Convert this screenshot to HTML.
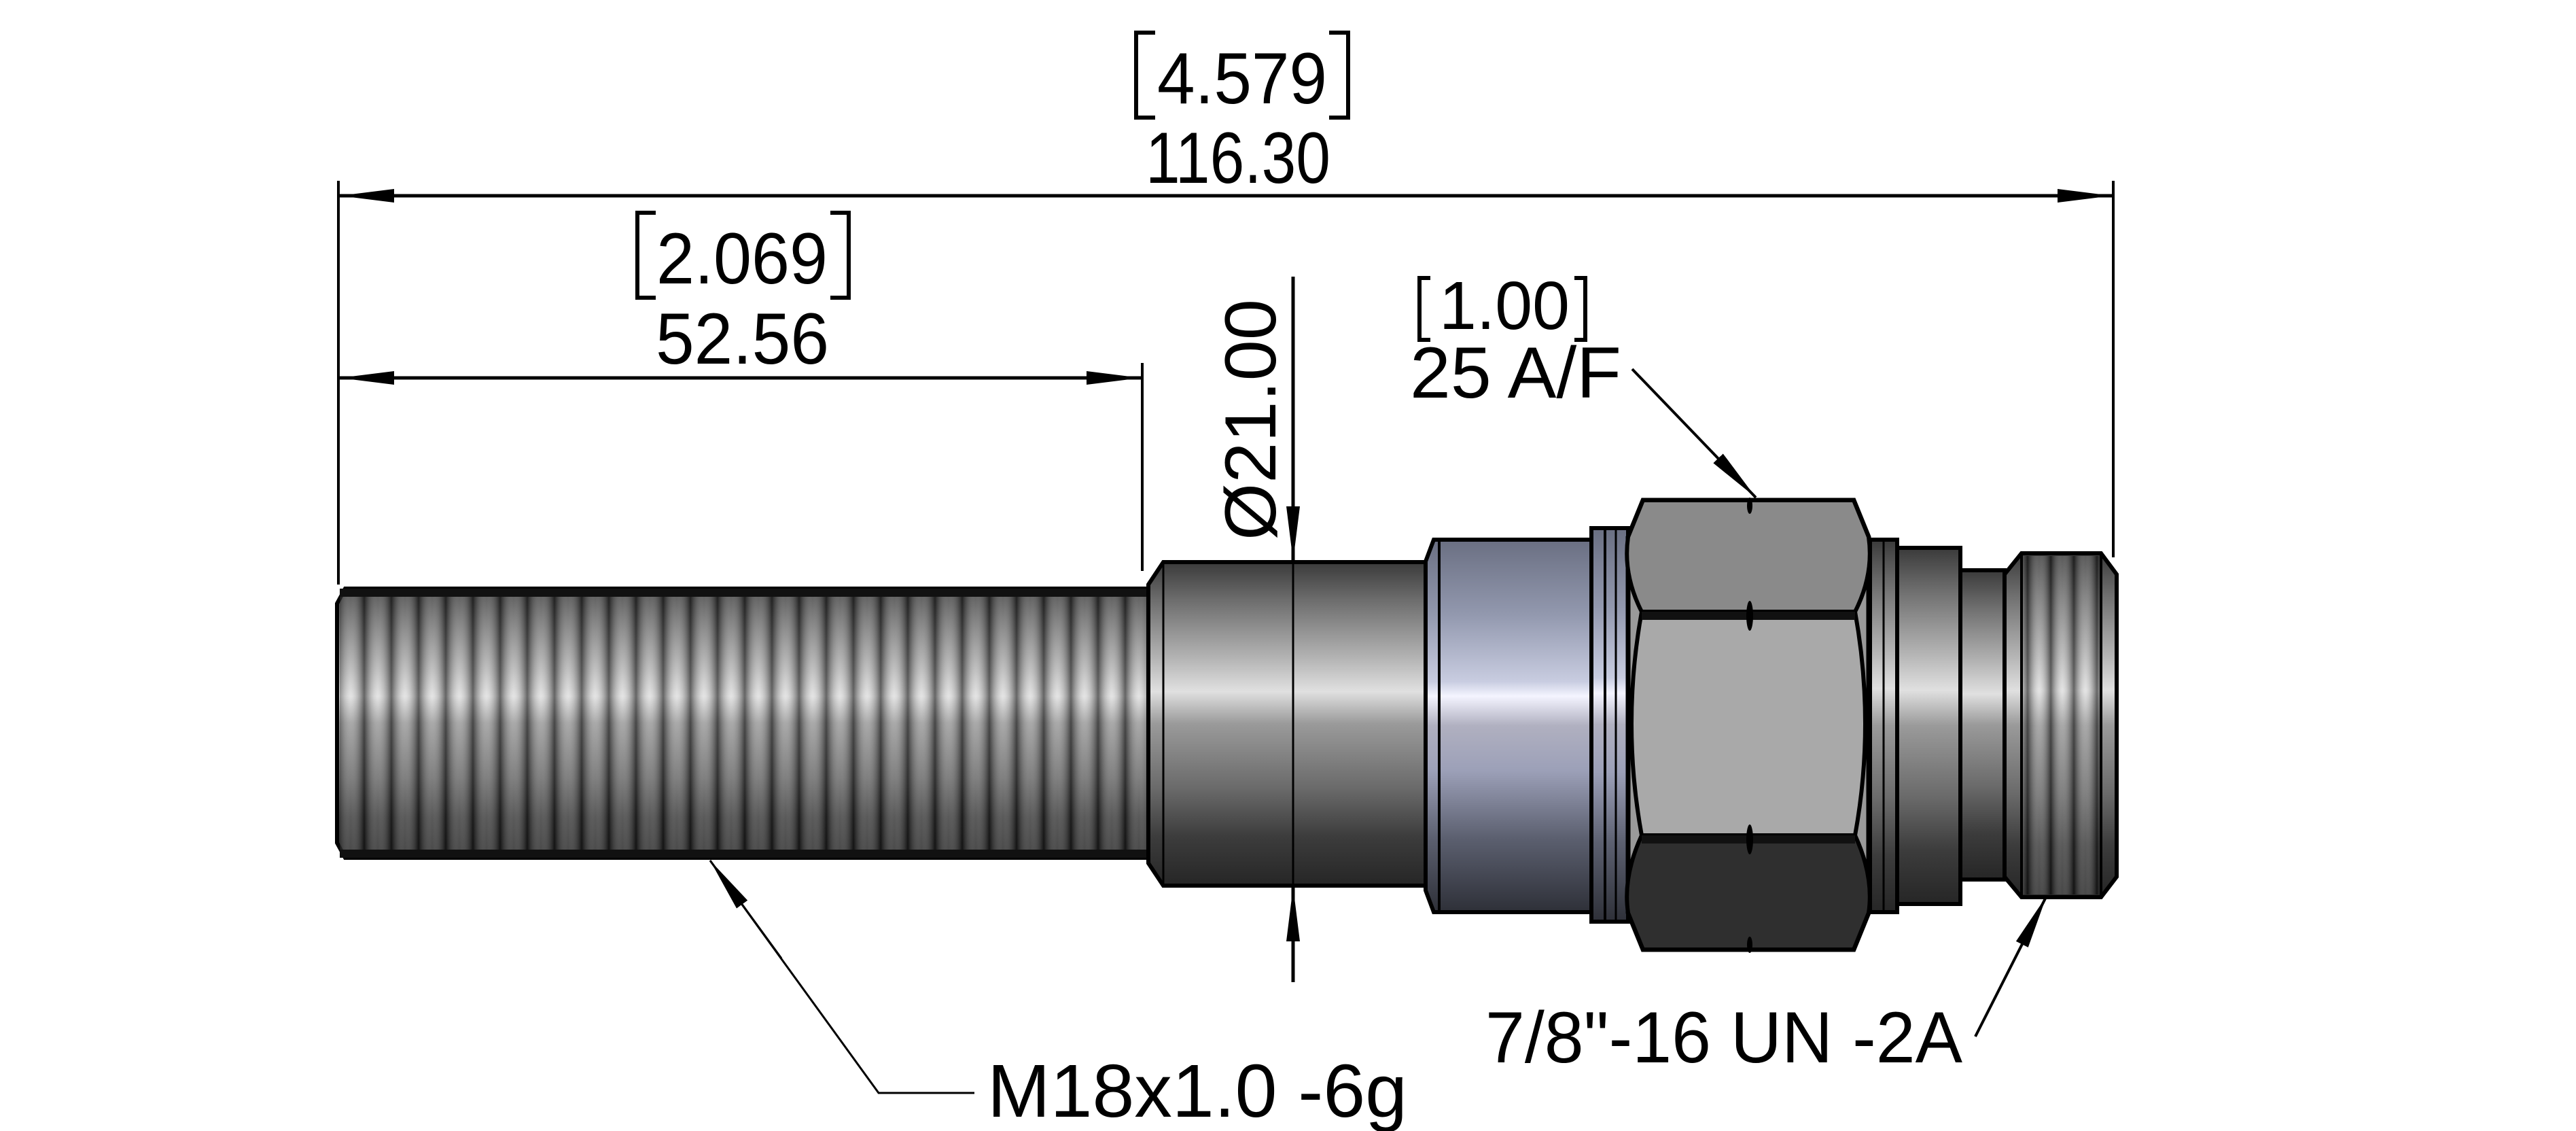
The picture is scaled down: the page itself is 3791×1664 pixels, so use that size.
<!DOCTYPE html>
<html><head><meta charset="utf-8"><style>html,body{margin:0;padding:0;background:#fff}svg{display:block}</style></head><body>
<svg width="3791" height="1664" viewBox="0 0 3791 1664" xmlns="http://www.w3.org/2000/svg" font-family="Liberation Sans, sans-serif">
<defs>
<linearGradient id="cyl" x1="0" y1="0" x2="0" y2="1">
<stop offset="0" stop-color="#3a3a3a"/><stop offset="0.12" stop-color="#6e6e6e"/><stop offset="0.3" stop-color="#b5b5b5"/><stop offset="0.4" stop-color="#e0e0e0"/><stop offset="0.5" stop-color="#9a9a9a"/><stop offset="0.7" stop-color="#6a6a6a"/><stop offset="0.85" stop-color="#3c3c3c"/><stop offset="1" stop-color="#262626"/>
</linearGradient>
<linearGradient id="blue" x1="0" y1="0" x2="0" y2="1">
<stop offset="0" stop-color="#6a6f82"/><stop offset="0.2" stop-color="#9298ae"/><stop offset="0.38" stop-color="#c8cce0"/><stop offset="0.42" stop-color="#f4f4ff"/><stop offset="0.5" stop-color="#b0b0c0"/><stop offset="0.62" stop-color="#9ca0b8"/><stop offset="0.8" stop-color="#5c6070"/><stop offset="1" stop-color="#2e3038"/>
</linearGradient>
<linearGradient id="stripe" x1="0" y1="0" x2="1" y2="0">
<stop offset="0" stop-color="#000" stop-opacity="0.55"/><stop offset="0.5" stop-color="#fff" stop-opacity="0.15"/><stop offset="1" stop-color="#000" stop-opacity="0.55"/>
</linearGradient>
<pattern id="thr" x="496" y="0" width="40" height="10" patternUnits="userSpaceOnUse">
<rect width="40" height="10" fill="url(#stripe)"/>
</pattern>
<pattern id="thr2" x="2950" y="0" width="34" height="10" patternUnits="userSpaceOnUse">
<rect width="34" height="10" fill="url(#stripe)"/>
</pattern>
<marker id="ar" viewBox="0 0 80 24" refX="80" refY="12" markerWidth="80" markerHeight="24" markerUnits="userSpaceOnUse" orient="auto-start-reverse">
<path d="M0,2 L80,12 L0,22 Z" fill="#000"/>
</marker>
</defs>

<!-- Thread -->
<path d="M508,866 L1690,866 L1690,1262 L508,1262 L496,1240 L496,888 Z" fill="url(#cyl)" stroke="#000" stroke-width="6"/>
<rect x="500" y="870" width="1188" height="388" fill="url(#thr)"/>
<rect x="500" y="866" width="1190" height="12" fill="#111"/>
<rect x="500" y="1250" width="1190" height="12" fill="#111"/>
<!-- Shank -->
<path d="M1712,827 L2098,827 L2098,1303 L1712,1303 L1690,1270 L1690,860 Z" fill="url(#cyl)" stroke="#000" stroke-width="6"/>
<line x1="1712" y1="827" x2="1712" y2="1303" stroke="#000" stroke-width="3"/>
<!-- Collar -->
<path d="M2110,794 L2342,794 L2342,1342 L2110,1342 L2098,1310 L2098,826 Z" fill="url(#blue)" stroke="#000" stroke-width="6"/>
<line x1="2118" y1="794" x2="2118" y2="1342" stroke="#000" stroke-width="4"/>
<!-- Ring -->
<rect x="2342" y="777" width="54" height="579" fill="url(#blue)" stroke="#000" stroke-width="6"/>
<line x1="2362" y1="777" x2="2362" y2="1356" stroke="#000" stroke-width="4"/>
<line x1="2378" y1="777" x2="2378" y2="1356" stroke="#000" stroke-width="3"/>
<!-- Hex -->
<path d="M2418,736 L2728,736 L2750,790 L2750,1343 L2728,1397 L2418,1397 L2396,1343 L2396,790 Z" fill="#9a9a9a" stroke="#000" stroke-width="7"/>
<path d="M2418,736 L2728,736 L2750,790 Q2758,845 2730,900 L2416,900 Q2388,845 2396,790 Z" fill="#8a8a8a" stroke="#000" stroke-width="6"/>
<path d="M2416,900 L2730,900 Q2760,1065 2730,1229 L2416,1229 Q2386,1065 2416,900 Z" fill="#a9a9a9" stroke="#000" stroke-width="6"/>
<path d="M2416,1229 L2730,1229 Q2758,1290 2750,1343 L2728,1397 L2418,1397 L2396,1343 Q2388,1290 2416,1229 Z" fill="#2f2f2f" stroke="#000" stroke-width="6"/>
<rect x="2416" y="900" width="314" height="12" fill="#111"/>
<rect x="2416" y="1229" width="314" height="12" fill="#111"/>
<g fill="#000">
<ellipse cx="2575" cy="744" rx="4" ry="12"/>
<ellipse cx="2575" cy="906" rx="5" ry="22"/>
<ellipse cx="2575" cy="1235" rx="5" ry="22"/>
<ellipse cx="2575" cy="1390" rx="4" ry="12"/>
</g>
<!-- after hex ring -->
<rect x="2752" y="794" width="40" height="548" fill="url(#cyl)" stroke="#000" stroke-width="6"/>
<line x1="2772" y1="794" x2="2772" y2="1342" stroke="#000" stroke-width="3"/>
<rect x="2792" y="806" width="93" height="524" fill="url(#cyl)" stroke="#000" stroke-width="6"/>
<rect x="2885" y="839" width="65" height="455" fill="url(#cyl)" stroke="#000" stroke-width="6"/>
<!-- End thread -->
<path d="M2975,814 L3092,814 L3115,845 L3115,1290 L3092,1320 L2975,1320 L2950,1290 L2950,845 Z" fill="url(#cyl)" stroke="#000" stroke-width="6"/>
<rect x="2977" y="818" width="113" height="498" fill="url(#thr2)"/>
<line x1="2975" y1="814" x2="2975" y2="1320" stroke="#000" stroke-width="4"/>
<line x1="3092" y1="814" x2="3092" y2="1320" stroke="#000" stroke-width="4"/>

<!-- Extension lines -->
<g stroke="#000" stroke-width="4" fill="none">
<line x1="498" y1="266" x2="498" y2="860"/>
<line x1="3110" y1="266" x2="3110" y2="820"/>
<line x1="1681" y1="534" x2="1681" y2="840"/>
</g>
<!-- Dimension lines -->
<g stroke="#000" stroke-width="5" fill="none">
<line x1="500" y1="288" x2="3108" y2="288" marker-start="url(#ar)" marker-end="url(#ar)"/>
<line x1="500" y1="556" x2="1679" y2="556" marker-start="url(#ar)" marker-end="url(#ar)"/>
<line x1="1903" y1="407" x2="1903" y2="825" marker-end="url(#ar)"/>
<line x1="1903" y1="1445" x2="1903" y2="1305" marker-end="url(#ar)"/>
<line x1="1903" y1="825" x2="1903" y2="1305" stroke-width="3"/>
<line x1="2402" y1="543" x2="2584" y2="732" marker-end="url(#ar)" stroke-width="4"/>
<line x1="2907" y1="1525" x2="3012" y2="1318" marker-end="url(#ar)" stroke-width="4"/>
<polyline points="1434,1608 1293,1608 1045,1266" stroke-width="3"/>
<line x1="1150" y1="1410" x2="1045" y2="1266" marker-end="url(#ar)" stroke-width="3"/>
</g>

<!-- Brackets -->
<g stroke="#000" stroke-width="6" fill="none">
<polyline points="1700,48 1672,48 1672,173 1700,173"/>
<polyline points="1956,48 1984,48 1984,173 1956,173"/>
<polyline points="965,313 938,313 938,438 965,438"/>
<polyline points="1222,313 1249,313 1249,438 1222,438"/>
<polyline points="2105,409 2089,409 2089,500 2105,500"/>
<polyline points="2317,409 2333,409 2333,500 2317,500"/>
</g>

<!-- Texts -->
<g fill="#000" font-size="107">
<text x="1703" y="152" textLength="250" lengthAdjust="spacingAndGlyphs">4.579</text>
<text x="1686" y="269" textLength="272" lengthAdjust="spacingAndGlyphs">116.30</text>
<text x="966" y="417" textLength="252" lengthAdjust="spacingAndGlyphs">2.069</text>
<text x="965" y="535" textLength="255" lengthAdjust="spacingAndGlyphs">52.56</text>
<text x="2118" y="484" font-size="100" textLength="192" lengthAdjust="spacingAndGlyphs">1.00</text>
<text x="2075" y="585" textLength="311" lengthAdjust="spacingAndGlyphs">25 A/F</text>
<text transform="translate(1877,795) rotate(-90)" textLength="355" lengthAdjust="spacingAndGlyphs">Ø21.00</text>
<text x="2186" y="1563" textLength="702" lengthAdjust="spacingAndGlyphs">7/8"-16 UN -2A</text>
<text x="1453" y="1643" font-size="110" textLength="618" lengthAdjust="spacingAndGlyphs">M18x1.0 -6g</text>
</g>
</svg>
</body></html>
